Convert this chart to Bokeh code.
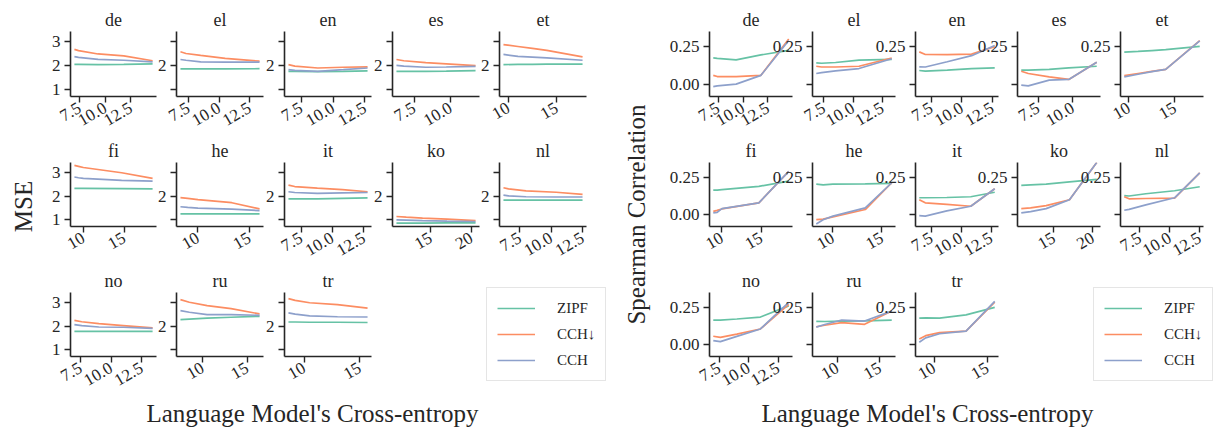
import math
from bokeh.plotting import figure
from bokeh.models import Range1d, FixedTicker, Title, Legend, LegendItem, NumeralTickFormatter
from bokeh.layouts import row, column
from bokeh.embed import file_html
from bokeh.resources import INLINE

# ---------------- data ----------------
languages = ["de", "el", "en", "es", "et", "fi", "he", "it", "ko", "nl", "no", "ru", "tr"]
series_names = ["ZIPF", "CCH↓", "CCH"]
x_title = "Language Model's Cross-entropy"
mse_title = "MSE"
rho_title = "Spearman Correlation"

# language model cross-entropy (x) per language
cross_entropy = {
    "de": [7.0, 7.4, 9.3, 11.8, 14.6],
    "el": [6.85, 7.3, 8.5, 10.5, 13.3],
    "en": [6.5, 7.0, 8.8, 10.8, 12.7],
    "es": [6.3, 6.8, 8.3, 9.7, 11.7],
    "et": [9.5, 11.0, 12.5, 14.0, 17.7],
    "fi": [8.9, 9.4, 10.0, 14.7, 18.5],
    "he": [8.3, 9.0, 10.0, 13.3, 16.0],
    "it": [6.5, 7.0, 8.8, 10.8, 12.8],
    "ko": [10.8, 12.0, 14.0, 17.0, 20.5],
    "nl": [6.2, 6.6, 8.0, 10.4, 12.5],
    "no": [7.0, 7.6, 9.0, 11.0, 13.4],
    "ru": [7.5, 8.5, 10.5, 13.2, 16.4],
    "tr": [8.6, 9.2, 10.5, 13.0, 15.7],
}
x_ticks = {
    "de": [7.5, 10, 12.5], "el": [7.5, 10, 12.5], "en": [7.5, 10, 12.5],
    "es": [7.5, 10], "et": [10, 15], "fi": [10, 15], "he": [10, 15],
    "it": [7.5, 10, 12.5], "ko": [15, 20], "nl": [7.5, 10, 12.5],
    "no": [7.5, 10, 12.5], "ru": [10, 15], "tr": [10, 15],
}

mse_zipf = {
    "de": [2.05, 2.05, 2.04, 2.05, 2.07], "el": [1.86, 1.86, 1.86, 1.86, 1.87],
    "en": [1.76, 1.76, 1.75, 1.76, 1.78], "es": [1.76, 1.76, 1.76, 1.77, 1.79],
    "et": [2.04, 2.05, 2.05, 2.06, 2.06], "fi": [2.32, 2.32, 2.32, 2.31, 2.30],
    "he": [1.25, 1.25, 1.25, 1.25, 1.25], "it": [1.88, 1.88, 1.88, 1.90, 1.92],
    "ko": [0.86, 0.86, 0.86, 0.87, 0.87], "nl": [1.83, 1.83, 1.83, 1.83, 1.83],
    "no": [1.78, 1.78, 1.78, 1.78, 1.78], "ru": [2.27, 2.29, 2.33, 2.37, 2.41],
    "tr": [2.17, 2.17, 2.16, 2.16, 2.15],
}
mse_cch_down = {
    "de": [2.67, 2.62, 2.48, 2.40, 2.20], "el": [2.57, 2.50, 2.42, 2.30, 2.18],
    "en": [2.04, 1.98, 1.90, 1.93, 1.95], "es": [2.25, 2.20, 2.12, 2.07, 2.00],
    "et": [2.87, 2.79, 2.71, 2.63, 2.36], "fi": [3.29, 3.25, 3.20, 2.98, 2.74],
    "he": [1.93, 1.90, 1.85, 1.72, 1.46], "it": [2.46, 2.40, 2.33, 2.27, 2.18],
    "ko": [1.14, 1.11, 1.07, 1.03, 0.97], "nl": [2.35, 2.30, 2.22, 2.16, 2.07],
    "no": [2.24, 2.18, 2.10, 2.02, 1.92], "ru": [3.11, 3.00, 2.86, 2.73, 2.51],
    "tr": [3.15, 3.08, 2.98, 2.90, 2.75],
}
mse_cch = {
    "de": [2.37, 2.34, 2.26, 2.22, 2.15], "el": [2.25, 2.22, 2.15, 2.14, 2.14],
    "en": [1.83, 1.80, 1.76, 1.83, 1.90], "es": [2.01, 1.98, 1.93, 1.94, 1.97],
    "et": [2.46, 2.38, 2.35, 2.32, 2.22], "fi": [2.80, 2.77, 2.74, 2.66, 2.63],
    "he": [1.55, 1.52, 1.49, 1.45, 1.39], "it": [2.18, 2.15, 2.11, 2.13, 2.15],
    "ko": [1.00, 0.99, 0.97, 0.95, 0.93], "nl": [2.04, 2.01, 1.97, 1.96, 1.96],
    "no": [2.06, 2.02, 1.96, 1.95, 1.90], "ru": [2.65, 2.58, 2.48, 2.48, 2.45],
    "tr": [2.55, 2.50, 2.43, 2.39, 2.38],
}

rho_zipf = {
    "de": [0.175, 0.172, 0.162, 0.195, 0.225], "el": [0.143, 0.140, 0.145, 0.160, 0.165],
    "en": [0.092, 0.088, 0.095, 0.105, 0.110], "es": [0.094, 0.095, 0.100, 0.110, 0.120],
    "et": [0.213, 0.218, 0.224, 0.230, 0.252], "fi": [0.164, 0.165, 0.168, 0.190, 0.225],
    "he": [0.205, 0.200, 0.205, 0.207, 0.210], "it": [0.113, 0.113, 0.115, 0.120, 0.150],
    "ko": [0.196, 0.200, 0.205, 0.220, 0.236], "nl": [0.128, 0.125, 0.140, 0.160, 0.187],
    "no": [0.165, 0.165, 0.172, 0.185, 0.260], "ru": [0.156, 0.155, 0.158, 0.160, 0.165],
    "tr": [0.178, 0.180, 0.178, 0.200, 0.250],
}
rho_cch_down = {
    "de": [0.060, 0.052, 0.052, 0.060, 0.300], "el": [0.120, 0.115, 0.115, 0.120, 0.175],
    "en": [0.215, 0.198, 0.197, 0.200, 0.250], "es": [0.087, 0.072, 0.050, 0.033, 0.147],
    "et": [0.058, 0.072, 0.086, 0.100, 0.290], "fi": [0.022, 0.028, 0.038, 0.079, 0.290],
    "he": [-0.034, -0.030, -0.015, 0.034, 0.214], "it": [0.100, 0.079, 0.068, 0.056, 0.174],
    "ko": [0.040, 0.045, 0.060, 0.100, 0.350], "nl": [0.120, 0.106, 0.108, 0.110, 0.280],
    "no": [0.056, 0.048, 0.070, 0.105, 0.270], "ru": [0.120, 0.130, 0.147, 0.136, 0.225],
    "tr": [0.038, 0.060, 0.080, 0.090, 0.285],
}
rho_cch = {
    "de": [-0.015, -0.010, 0.002, 0.060, 0.290], "el": [0.072, 0.078, 0.090, 0.105, 0.170],
    "en": [0.116, 0.115, 0.150, 0.190, 0.257], "es": [-0.005, -0.010, 0.028, 0.033, 0.147],
    "et": [0.050, 0.067, 0.084, 0.100, 0.288], "fi": [0.011, 0.015, 0.040, 0.079, 0.290],
    "he": [-0.063, -0.035, -0.010, 0.045, 0.214], "it": [-0.007, -0.010, 0.025, 0.056, 0.174],
    "ko": [0.011, 0.020, 0.040, 0.100, 0.350], "nl": [0.029, 0.035, 0.065, 0.113, 0.280],
    "no": [0.027, 0.020, 0.055, 0.105, 0.283], "ru": [0.117, 0.135, 0.165, 0.158, 0.225],
    "tr": [0.016, 0.045, 0.073, 0.090, 0.290],
}

mse_yticks = [1, 2, 3]
rho_yticks = [0.0, 0.25]

# ---------------- style / layout ----------------
FONT = "Liberation Serif"
INK = "#262626"
COLORS = ["#66c2a5", "#fc8d62", "#8da0cb"]
GRID = [languages[0:5], languages[5:10], languages[10:13]]

R_BORDER = 10
B_OTHER = 60
TOPS = [31, 24, 24]
FRAME_H = 65
BOTTOMS = [41, 41, 42]
XLAB_H = 28
LEG_W, LEG_H = 121, 94


def bare(p):
    p.outline_line_color = None
    p.background_fill_color = None
    p.border_fill_color = None


def style(p):
    bare(p)
    p.xgrid.grid_line_color = None
    p.ygrid.grid_line_color = None
    for ax in (p.xaxis[0], p.yaxis[0]):
        ax.axis_line_color = INK
        ax.axis_line_width = 1.6
        ax.major_tick_line_color = INK
        ax.major_tick_line_width = 1.4
        ax.major_tick_out = 6
        ax.major_tick_in = 0
        ax.minor_tick_line_color = None
        ax.major_label_text_font = FONT
        ax.major_label_text_font_size = "17px"
        ax.major_label_text_color = INK
        ax.major_label_standoff = 4
    p.xaxis[0].major_label_orientation = math.pi / 6


def make_block(series, yr, yticks, yfmt, keep_tick, frames, fw, block, ylabel,
               ylab_w, ylab_border, ylab_center, xlab_center, legend_topleft):
    b0, b1 = block
    col_start = b0 + ylab_w
    rows = []
    row_top = 0
    for r, langs in enumerate(GRID):
        h = TOPS[r] + FRAME_H + BOTTOMS[r]
        figs = []
        prev_right = col_start
        for c, lang in enumerate(langs):
            if c == 0:
                bl, ml = frames[0] - col_start, 0
            else:
                bl = B_OTHER
                ml = frames[c] - bl - prev_right
            xs = cross_entropy[lang]
            d = max(xs) - min(xs)
            p = figure(width=bl + fw + R_BORDER, height=h,
                       min_border_left=bl, min_border_right=R_BORDER,
                       min_border_top=TOPS[r], min_border_bottom=BOTTOMS[r],
                       x_range=Range1d(min(xs) - 0.05 * d, max(xs) + 0.05 * d),
                       y_range=Range1d(*yr), toolbar_location=None,
                       output_backend="svg", margin=(0, 0, 0, ml))
            for s, color in zip(series, COLORS):
                p.line(xs, s[lang], line_color=color, line_width=1.7)
            style(p)
            xt = x_ticks[lang]
            p.xaxis[0].ticker = FixedTicker(ticks=xt)
            p.xaxis[0].formatter = NumeralTickFormatter(
                format="0" if all(float(t).is_integer() for t in xt) else "0.0")
            p.yaxis[0].ticker = FixedTicker(ticks=yticks)
            p.yaxis[0].formatter = NumeralTickFormatter(format=yfmt)
            if c > 0:
                p.yaxis[0].major_label_overrides = {t: "" for t in yticks if t != keep_tick}
            p.title.text = lang
            p.title.align = "center"
            p.title.text_font = FONT
            p.title.text_font_size = "18px"
            p.title.text_font_style = "normal"
            p.title.text_color = INK
            p.title.standoff = 3
            figs.append(p)
            prev_right = frames[c] + fw + R_BORDER
        rows.append(row(*figs))
        row_top += h

    # legend in its own small figure, pulled up over the empty grid cells of row 3
    lx, ly = legend_topleft
    lf = figure(width=LEG_W, height=LEG_H, min_border=0, title=None,
                x_range=Range1d(0, 1), y_range=Range1d(0, 1),
                x_axis_type=None, y_axis_type=None,
                toolbar_location=None, output_backend="svg")
    bare(lf)
    lf.xgrid.grid_line_color = None
    lf.ygrid.grid_line_color = None
    items = []
    for name, color, s in zip(series_names, COLORS, series):
        # same series as the panels (outside this tiny frame's range, so only the key shows)
        rr = lf.line(cross_entropy["de"], s["de"], line_color=color, line_width=1.7)
        items.append(LegendItem(label=name, renderers=[rr]))
    leg = Legend(items=items, location="top_left",
                 label_text_font=FONT, label_text_font_size="15px",
                 label_text_color=INK, glyph_width=38, glyph_height=20,
                 label_height=20, spacing=6, padding=10, margin=0,
                 label_standoff=22, border_line_color="#cccccc",
                 border_line_width=1, background_fill_alpha=0.8)
    lf.add_layout(leg)
    rows.append(row(lf, margin=(ly - row_top, 0, 0, lx - col_start)))

    xw = b1 - col_start
    xf = figure(width=xw, height=XLAB_H, min_border=0,
                min_border_right=max(0, xw - 2 * (xlab_center - col_start)),
                x_axis_type=None, y_axis_type=None,
                toolbar_location=None, output_backend="svg")
    bare(xf)
    xf.add_layout(Title(text=x_title, text_font=FONT, text_font_size="25px",
                        text_font_style="normal", text_color=INK, align="center",
                        standoff=0), "above")
    rows.append(row(xf, margin=(row_top - (ly + LEG_H), 0, 0, 0)))

    total_h = row_top + XLAB_H
    if 2 * ylab_center > total_h:
        ytop, ybot = 2 * ylab_center - total_h, 0
    else:
        ytop, ybot = 0, total_h - 2 * ylab_center
    yf = figure(width=ylab_w, height=total_h, min_border=0,
                min_border_left=ylab_border,
                min_border_top=ytop, min_border_bottom=ybot,
                x_axis_type=None, y_axis_type=None,
                toolbar_location=None, output_backend="svg")
    bare(yf)
    yf.add_layout(Title(text=ylabel, text_font=FONT, text_font_size="25px",
                        text_font_style="normal", text_color=INK, align="center",
                        standoff=0), "left")
    return row(yf, column(*rows))


left = make_block([mse_zipf, mse_cch_down, mse_cch], (0.72, 3.41), mse_yticks, "0", 2,
                  [69, 176, 284, 392, 499], 87, (0, 619), mse_title, 48, 36, 206, 312,
                  (486, 287))
right = make_block([rho_zipf, rho_cch_down, rho_cch], (-0.08, 0.35), rho_yticks, "0.00", 0.25,
                   [709, 812, 915, 1017, 1120], 83, (619, 1214), rho_title, 40, 30, 214, 927,
                   (1093, 287))

layout = row(left, right)
open("out.html", "w").write(file_html(layout, INLINE))
